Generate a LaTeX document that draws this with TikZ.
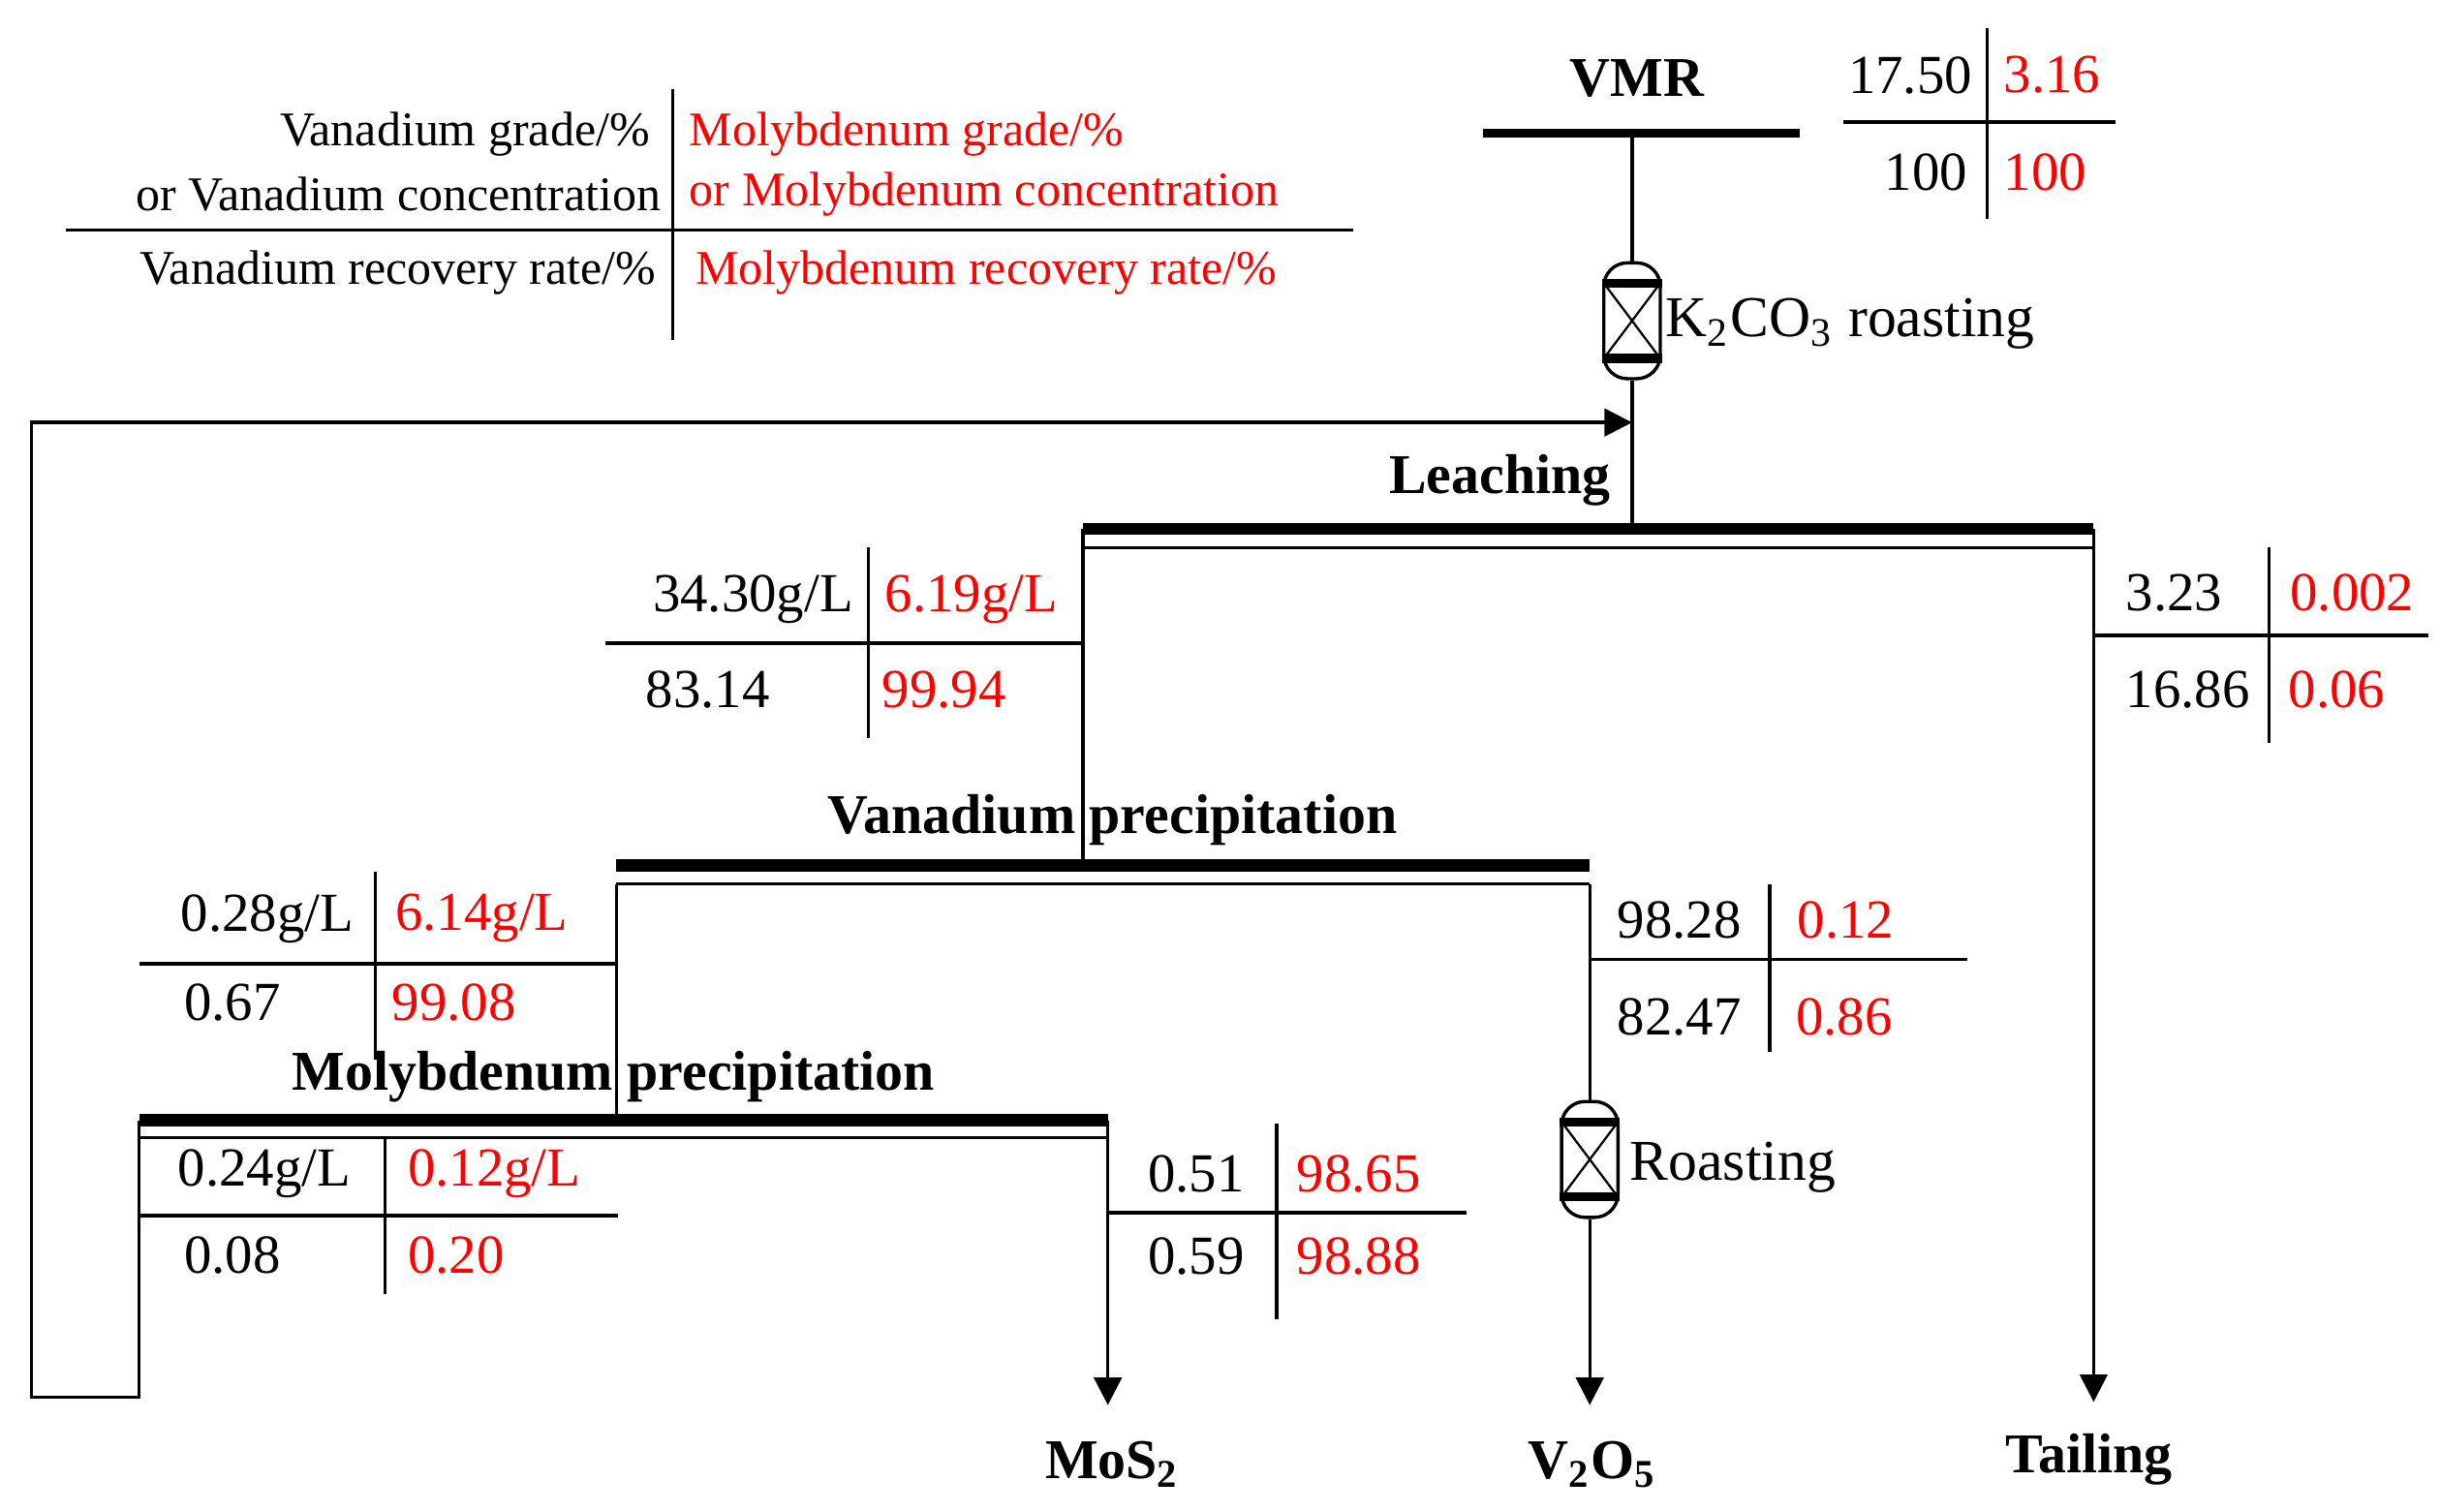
\documentclass[tikz,border=0pt]{standalone}
\usepackage{fontspec}
\setmainfont{Liberation Serif}
\usetikzlibrary{arrows.meta}
\begin{document}
\begin{tikzpicture}[x=0.01cm,y=-0.01cm,
  ln/.style={line width=0.6pt},
  thk/.style={line width=2.2pt},
  arr/.style={ln,-{Triangle[length=5pt,width=5pt]}},
  num/.style={font=\fontsize{10}{12}\selectfont,inner sep=0pt},
  rnum/.style={num,text=red},
  leg/.style={font=\fontsize{8.8}{10}\selectfont,inner sep=0pt},
  lab/.style={font=\fontsize{10.2}{12}\selectfont\bfseries,inner sep=0pt},
  furn/.style={draw,line width=0.6pt,minimum width=0.36cm,minimum height=0.74cm,rounded corners=0.15cm,inner sep=0pt}]
\useasboundingbox (0,0) rectangle (1560,966);
\definecolor{red}{RGB}{255,0,0}
% legend
\draw[ln] (430,57) -- (430,217);
\draw[ln] (42,147) -- (865,147);
\node[leg,anchor=east] (l1) at (416,86) {Vanadium grade/\%};
\node[leg,anchor=east] (l2) at (423,124) {or Vanadium concentration};
\node[leg,anchor=east] (l3) at (420,174) {Vanadium recovery rate/\%};
\node[leg,anchor=west,text=red] (l4) at (440,86) {Molybdenum grade/\%};
\node[leg,anchor=west,text=red] (l5) at (440,124) {or Molybdenum concentration};
\node[leg,anchor=west,text=red] (l6) at (444,174) {Molybdenum recovery rate/\%};
% VMR
\node[lab] (vmr) at (1046,50) {VMR};
\draw[thk,line width=1.6pt] (948,85) -- (1150,85);
\coordinate (vtop) at (1043,85);
\draw[ln] (1270,18) -- (1270,140);
\draw[ln] (1178,78) -- (1352,78);
\node[num,anchor=east] (a1) at (1261,48) {17.50};
\node[rnum,anchor=west] (a2) at (1280,48) {3.16};
\node[num,anchor=east] (a3) at (1258,110) {100};
\node[rnum,anchor=west] (a4) at (1280,110) {100};
% K2CO3 roasting
\node[furn] (f1) at (1043,205) {};
\draw[line width=1.6pt] ([yshift=0.24cm]f1.center-|f1.west) -- ([yshift=0.24cm]f1.center-|f1.east);
\draw[line width=1.6pt] ([yshift=-0.24cm]f1.center-|f1.west) -- ([yshift=-0.24cm]f1.center-|f1.east);
\draw[line width=0.4pt] ([shift={(-18,-24)}]f1.center) -- ([shift={(18,24)}]f1.center)
  ([shift={(18,-24)}]f1.center) -- ([shift={(-18,24)}]f1.center);
\node[num,anchor=west,font=\fontsize{10.5}{12}\selectfont] (f1t) at (1064,207) {K\textsubscript{2}CO\textsubscript{3} roasting};
\draw[ln] (vtop) -- (f1.north);
% Leaching
\coordinate (lch) at (1043,338);
\draw[ln] (f1.south) -- (lch);
\node[lab,anchor=east] (lt) at (1030,307) {Leaching};
\draw[thk] (692,338) -- (1338,338);
\draw[ln] (692,350) -- (1338,350);
% leaching left table
\draw[ln] (555,350) -- (555,472);
\draw[ln] (387,411) -- (692,411);
\node[num,anchor=east] (b1) at (546,383) {34.30g/L};
\node[rnum,anchor=west] (b2) at (565,383) {6.19g/L};
\node[num,anchor=west] (b3) at (412,441) {83.14};
\node[rnum,anchor=west] (b4) at (563,441) {99.94};
% tailing table
\draw[ln] (1450,350) -- (1450,475);
\draw[ln] (1338,406) -- (1552,406);
\node[num,anchor=west] (c1) at (1358,379) {3.23};
\node[rnum,anchor=west] (c2) at (1463,379) {0.002};
\node[num,anchor=west] (c3) at (1358,441) {16.86};
\node[rnum,anchor=west] (c4) at (1462,441) {0.06};
% V precipitation
\node[lab] (vpt) at (711,524) {Vanadium precipitation};
\draw[thk] (394,553) -- (1016,553);
\draw[ln] (394,565) -- (1016,565);
\draw[ln] (692,338) -- (692,553);
\draw[ln] (240,557) -- (240,677);
\draw[ln] (89,616) -- (394,616);
\node[num,anchor=west] (d1) at (115,587) {0.28g/L};
\node[rnum,anchor=west] (d2) at (252,587) {6.14g/L};
\node[num,anchor=west] (d3) at (117,641) {0.67};
\node[rnum,anchor=west] (d4) at (250,641) {99.08};
\draw[ln] (1131,565) -- (1131,672);
\draw[ln] (1016,613) -- (1257,613);
\node[num,anchor=west] (e1) at (1033,588) {98.28};
\node[rnum,anchor=west] (e2) at (1148,588) {0.12};
\node[num,anchor=west] (e3) at (1033,650) {82.47};
\node[rnum,anchor=west] (e4) at (1147,650) {0.86};
% Roasting
\node[furn] (f2) at (1016,741) {};
\draw[line width=1.6pt] ([yshift=0.24cm]f2.center-|f2.west) -- ([yshift=0.24cm]f2.center-|f2.east);
\draw[line width=1.6pt] ([yshift=-0.24cm]f2.center-|f2.west) -- ([yshift=-0.24cm]f2.center-|f2.east);
\draw[line width=0.4pt] ([shift={(-18,-24)}]f2.center) -- ([shift={(18,24)}]f2.center)
  ([shift={(18,-24)}]f2.center) -- ([shift={(-18,24)}]f2.center);
\node[num,anchor=west,font=\fontsize{10.5}{12}\selectfont] (f2t) at (1041,746) {Roasting};
\draw[ln] (1016,565) -- (f2.north);
% Mo precipitation
\node[lab] (mpt) at (392,688) {Molybdenum precipitation};
\draw[thk] (89,716) -- (708,716);
\draw[ln] (89,727) -- (708,727);
\draw[ln] (394,565) -- (394,716);
\draw[ln] (246,727) -- (246,827);
\draw[ln] (89,777) -- (395,777);
\node[num,anchor=west] (g1) at (113,750) {0.24g/L};
\node[rnum,anchor=west] (g2) at (260,750) {0.12g/L};
\node[num,anchor=west] (g3) at (117,802) {0.08};
\node[rnum,anchor=west] (g4) at (260,802) {0.20};
\draw[ln] (816,718) -- (816,843);
\draw[ln] (708,775) -- (937,775);
\node[num,anchor=west] (h1) at (733,750) {0.51};
\node[rnum,anchor=west] (h2) at (828,750) {98.65};
\node[num,anchor=west] (h3) at (733,803) {0.59};
\node[rnum,anchor=west] (h4) at (828,803) {98.88};
% products
\node[lab] (mos) at (711,936) {MoS\textsubscript{2}};
\node[lab] (v2o5) at (1018,936) {V\textsubscript{2}O\textsubscript{5}};
\node[lab] (tail) at (1335,933) {Tailing};
\draw[arr] (708,716) -- (708,898);
\draw[arr] (f2.south) -- (1016,898);
\draw[arr] (1338,338) -- (1338,896);
% recycle
\coordinate (rc) at (1043,270);
\draw[arr] (89,716) -- (89,893) -- (20,893) -- (20,270) -- (rc);
\end{tikzpicture}
\end{document}
